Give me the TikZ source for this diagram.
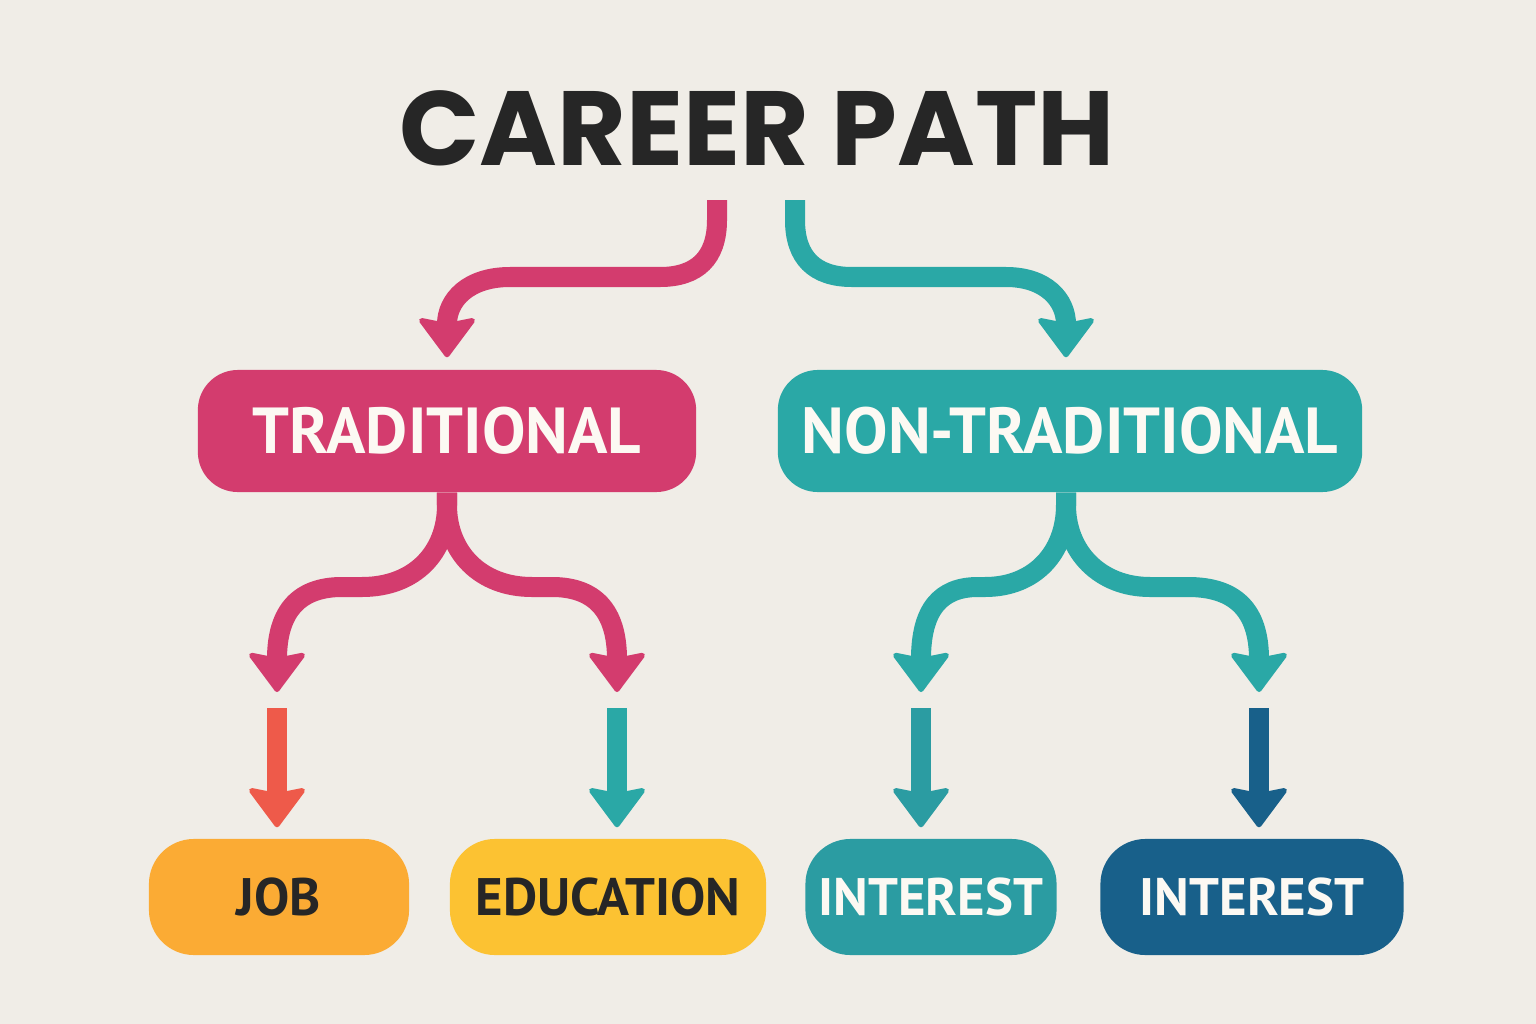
\documentclass[tikz,border=0pt]{standalone}
\usepackage{fontspec}
\usepackage{tikz}
\usetikzlibrary{arrows.meta,calc}
\newfontfamily\titlefont{Poppins}
\newfontfamily\boxfont{PT Sans}
\definecolor{paper}{RGB}{240,237,231}
\definecolor{ink}{RGB}{38,38,38}
\definecolor{snow}{RGB}{252,249,243}
\definecolor{rose}{RGB}{211,60,110}
\definecolor{lagoon}{RGB}{42,168,166}
\definecolor{coral}{RGB}{238,90,74}
\definecolor{amber}{RGB}{251,171,52}
\definecolor{sun}{RGB}{252,194,50}
\definecolor{sea}{RGB}{43,156,162}
\definecolor{navy}{RGB}{24,96,138}

\begin{document}
\begin{tikzpicture}[x=0.01cm,y=-0.01cm,
    bigbox/.style={rounded corners=0.4cm, minimum height=1.22cm, inner sep=0pt,
      text=snow, font=\boxfont\bfseries\fontsize{18.5}{20}\selectfont},
    tile/.style={rounded corners=0.45cm, minimum height=1.16cm, inner sep=0pt,
      font=\boxfont\bfseries\fontsize{15}{17}\selectfont},
    flow/.style={line width=0.2cm,
      -{Stealth[length=0.42cm,width=0.62cm,inset=0.06cm,line width=1.5pt,round]}}]
    %%Background
    \fill[paper] (0,0) rectangle (1536,1024);
    %%Title
    \node[text=ink, font=\titlefont\bfseries\fontsize{30}{32}\selectfont] (title) at (757,128) {CAREER PATH};
    %%Boxes
    \node[bigbox, fill=rose, minimum width=4.98cm] (trad) at (447,431) {TRADITIONAL};
    \node[bigbox, fill=lagoon, minimum width=5.84cm] (non) at (1070,431) {NON-TRADITIONAL};
    \node[tile, fill=amber, text=ink, minimum width=2.6cm] (job) at (279,897) {JOB};
    \node[tile, fill=sun, text=ink, minimum width=3.16cm] (edu) at (608,897) {EDUCATION};
    \node[tile, fill=sea, text=snow, minimum width=2.51cm] (intA) at (931,897) {INTEREST};
    \node[tile, fill=navy, text=snow, minimum width=3.03cm] (intB) at (1252,897) {INTEREST};
    %%Free_ends
    \coordinate (trad_out) at (717,200);
    \coordinate (non_out) at (795,200);
    \coordinate (job_in) at (277,692);
    \coordinate (edu_in) at (617,692);
    \coordinate (intA_in) at (921,692);
    \coordinate (intB_in) at (1259,692);
    \coordinate (job_bar) at (277,708);
    \coordinate (edu_bar) at (617,708);
    \coordinate (intA_bar) at (921,708);
    \coordinate (intB_bar) at (1259,708);
    %%Title_to_boxes
    \draw[flow, rose] (trad_out) -- (717,220) .. controls (717,258) and (697,277) .. (660,277)
      -- (510,277) .. controls (468,277) and (447,300) .. ($(trad.north)+(0,-12)$);
    \draw[flow, lagoon] (non_out) -- (795,220) .. controls (795,258) and (815,277) .. (852,277)
      -- (1006,277) .. controls (1046,277) and (1066,300) .. ($(non.north)+(-4,-12)$);
    %%Traditional_split
    \draw[flow, rose] (trad.south) -- (447,505) .. controls (447,552) and (415,587) .. (362,587)
      -- (342,587) .. controls (300,587) and (277,610) .. (job_in);
    \draw[flow, rose] (trad.south) -- (447,505) .. controls (447,552) and (480,587) .. (532,587)
      -- (552,587) .. controls (594,587) and (617,610) .. (edu_in);
    %%Non_traditional_split
    \draw[flow, lagoon] ($(non.south)+(-4,0)$) -- (1066,505) .. controls (1066,552) and (1035,587) .. (985,587)
      -- (978,587) .. controls (940,587) and (921,610) .. (intA_in);
    \draw[flow, lagoon] ($(non.south)+(-4,0)$) -- (1066,505) .. controls (1066,552) and (1100,587) .. (1150,587)
      -- (1188,587) .. controls (1235,587) and (1259,610) .. (intB_in);
    %%Straight_arrows
    \draw[flow, coral] (job_bar) -- ($(job.north)+(-2,-11)$);
    \draw[flow, lagoon] (edu_bar) -- ($(edu.north)+(9,-11)$);
    \draw[flow, sea] (intA_bar) -- ($(intA.north)+(-10,-11)$);
    \draw[flow, navy] (intB_bar) -- ($(intB.north)+(7,-11)$);
\end{tikzpicture}
\end{document}
